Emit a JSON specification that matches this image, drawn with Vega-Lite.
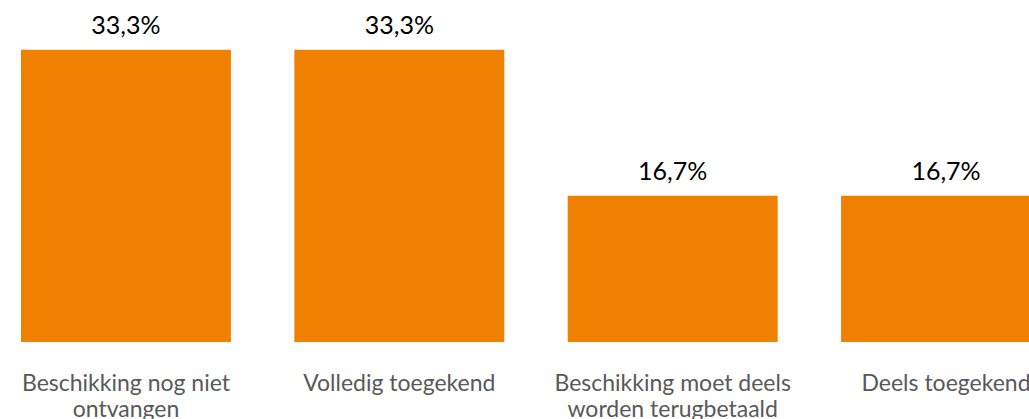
{
  "$schema": "https://vega.github.io/schema/vega-lite/v6.json",
  "width": 1072,
  "height": 342,
  "padding": {"left": 0, "top": 0, "right": 0, "bottom": 77},
  "autosize": {"type": "none"},
  "background": "white",
  "config": {
    "view": {"stroke": null},
    "font": "Lato",
    "locale": {"number": {"decimal": ",", "thousands": ".", "grouping": [3], "currency": ["€", ""]}}
  },
  "data": {
    "values": [
      {"label": "Beschikking nog niet|ontvangen", "value": 0.3333},
      {"label": "Volledig toegekend", "value": 0.3333},
      {"label": "Beschikking moet deels|worden terugbetaald", "value": 0.1667},
      {"label": "Deels toegekend", "value": 0.1667}
    ]
  },
  "encoding": {
    "x": {
      "field": "label",
      "type": "nominal",
      "sort": null,
      "scale": {"paddingInner": 0.232, "paddingOuter": 0.0768},
      "axis": {
        "title": null,
        "domain": false,
        "ticks": false,
        "labelAngle": 0,
        "labelExpr": "split(datum.label, '|')",
        "labelFont": "Lato",
        "labelFontSize": 23,
        "labelColor": "#595959",
        "labelPadding": 48,
        "labelBaseline": "alphabetic",
        "labelLineHeight": 26,
        "labelLimit": 0
      }
    },
    "y": {
      "field": "value",
      "type": "quantitative",
      "scale": {"domain": [0, 0.39]},
      "axis": null
    }
  },
  "layer": [
    {"mark": {"type": "bar", "color": "#F08000"}},
    {
      "mark": {"type": "text", "baseline": "alphabetic", "dy": -16, "fontSize": 25, "font": "Lato", "color": "#000000"},
      "encoding": {"text": {"field": "value", "type": "quantitative", "format": ".1%"}}
    }
  ]
}
